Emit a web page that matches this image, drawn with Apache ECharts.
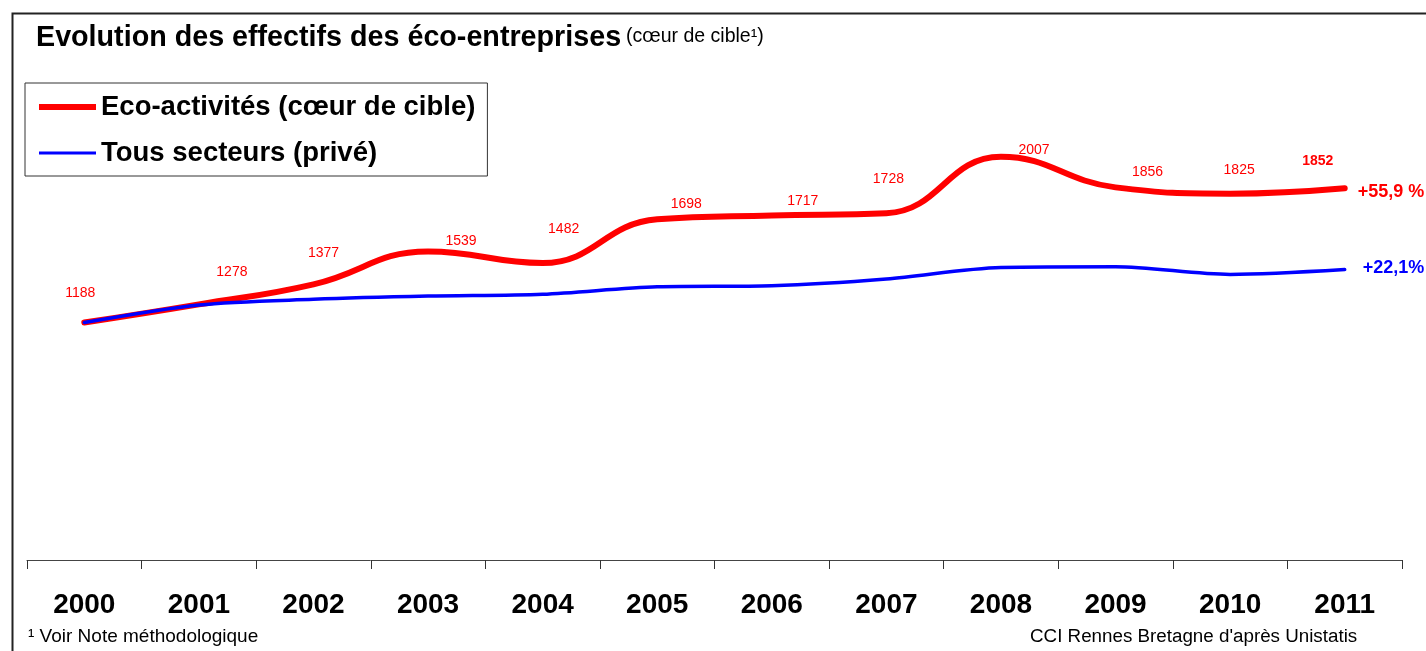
<!DOCTYPE html>
<html>
<head>
<meta charset="utf-8">
<script src="https://cdn.jsdelivr.net/npm/echarts@6/dist/echarts.min.js"></script>
<style>
  html, body { margin: 0; padding: 0; background: #fff; }
  #chart { width: 1426px; height: 651px; }
</style>
</head>
<body>
<div id="chart"></div>
<script>
// ---- data ----
const years = ['2000', '2001', '2002', '2003', '2004', '2005', '2006', '2007', '2008', '2009', '2010', '2011'];
const ecoActivites = [1188, 1278, 1377, 1539, 1482, 1698, 1717, 1728, 2007, 1856, 1825, 1852];
// "Tous secteurs (privé)" indexed to the same 2000 base
const tousSecteursIndex = [1188, 1275, 1303, 1319, 1328, 1365, 1370, 1403, 1460, 1464, 1426, 1450];
const seriesNames = ['Eco-activités (cœur de cible)', 'Tous secteurs (privé)'];
const endLabels = ['+55,9 %', '+22,1%'];
const titleMain = 'Evolution des effectifs des éco-entreprises';
const titleSub = '(cœur de cible¹)';
const footLeft = '¹ Voir Note méthodologique';
const footRight = "CCI Rennes Bretagne d'après Unistatis";

// ---- layout (label offsets as in the original picture) ----
const labelOffsets = [[-4, -29], [33, -32], [10, -31], [33, -10], [21, -34], [29, -15],
                      [31, -14], [2, -34], [33, -7], [32, -15], [9, -23], [-27, -27]];
const FONT = "'Liberation Sans', Arial, sans-serif";

const redData = ecoActivites.map((v, i) => ({
  value: v,
  label: {
    offset: labelOffsets[i],
    fontWeight: i === ecoActivites.length - 1 ? 'bold' : 'normal'
  }
}));

const chart = echarts.init(document.getElementById('chart'), null, { renderer: 'canvas' });
chart.setOption({
  animation: false,
  backgroundColor: '#ffffff',
  title: {
    text: '{a|' + titleMain + '} {b|' + titleSub + '}',
    left: 31,
    top: 19,
    textStyle: {
      fontWeight: 'normal',
      rich: {
        a: { fontFamily: FONT, fontSize: 28.7, fontWeight: 'bold', color: '#000' },
        b: { fontFamily: FONT, fontSize: 19.5, fontWeight: 'normal', color: '#000', padding: [0, 0, 3, 0] }
      }
    }
  },
  legend: {
    orient: 'vertical',
    left: 25,
    top: 83,
    padding: [9, 12, 8, 14],
    itemWidth: 57,
    itemHeight: 14,
    itemGap: 16,
    borderColor: '#333',
    borderWidth: 1,
    borderRadius: 0,
    itemStyle: { borderWidth: 0 },
    textStyle: { fontFamily: FONT, fontSize: 27.5, fontWeight: 'bold', color: '#000', lineHeight: 30 },
    data: [
      { name: seriesNames[0], icon: 'path://M0,0M0,14M0,4L57,4L57,10L0,10Z' },
      { name: seriesNames[1], icon: 'path://M0,0M0,14M0,5.5L57,5.5L57,8.5L0,8.5Z' }
    ]
  },
  grid: { left: 27, right: 24, top: 57, bottom: 91, containLabel: false },
  xAxis: {
    type: 'category',
    data: years,
    boundaryGap: true,
    axisLine: { onZero: false, lineStyle: { color: '#444', width: 1 } },
    axisTick: { show: true, interval: 0, length: 9, lineStyle: { color: '#333' } },
    axisLabel: { interval: 0, margin: 31, fontFamily: FONT, fontSize: 28, fontWeight: 'bold', color: '#000' },
    splitLine: { show: false }
  },
  yAxis: {
    type: 'value',
    min: 15,
    max: 2500,
    show: false,
    splitLine: { show: false }
  },
  series: [
    {
      name: seriesNames[0],
      type: 'line',
      data: redData,
      smooth: 0.45,
      symbol: 'circle',
      symbolSize: 1,
      showSymbol: true,
      color: '#ff0000',
      itemStyle: { color: '#ff0000' },
      lineStyle: { color: '#ff0000', width: 6, cap: 'round' },
      label: {
        show: true,
        position: 'inside',
        color: '#ff0000',
        fontFamily: FONT,
        fontSize: 14
      },
      endLabel: {
        show: true,
        formatter: endLabels[0],
        distance: 13,
        offset: [0, 4],
        color: '#ff0000',
        fontFamily: FONT,
        fontSize: 18,
        fontWeight: 'bold'
      },
      z: 2
    },
    {
      name: seriesNames[1],
      type: 'line',
      data: tousSecteursIndex,
      smooth: 0.3,
      symbol: 'none',
      color: '#0000ff',
      itemStyle: { color: '#0000ff' },
      lineStyle: { color: '#0000ff', width: 3.5, cap: 'round' },
      endLabel: {
        show: true,
        formatter: endLabels[1],
        distance: 18,
        offset: [0, -2],
        color: '#0000ff',
        fontFamily: FONT,
        fontSize: 18,
        fontWeight: 'bold'
      },
      z: 3
    }
  ],
  graphic: [
    {
      type: 'rect',
      left: 10, top: 11,
      shape: { width: 1430, height: 660 },
      style: { fill: 'none', stroke: '#222', lineWidth: 2 },
      silent: true, z: -1
    },
    {
      type: 'text',
      left: 28, top: 627,
      style: { text: footLeft, fontFamily: FONT, fontSize: 19, fill: '#000' }
    },
    {
      type: 'text',
      left: 1030, top: 627,
      style: { text: footRight, fontFamily: FONT, fontSize: 18.8, fill: '#000' }
    }
  ]
});
</script>
</body>
</html>
